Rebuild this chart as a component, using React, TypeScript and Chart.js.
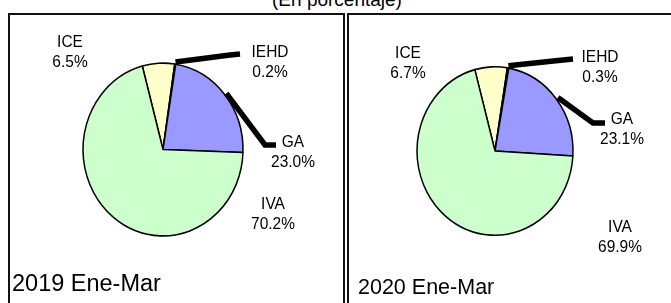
import React, { useEffect, useRef } from "react";
import { Chart, registerables } from "chart.js";

Chart.register(...registerables);

// ---- data ----
const categories = ["ICE", "IEHD", "GA", "IVA"];
const values2019 = [6.5, 0.2, 23.0, 70.2];
const values2020 = [6.7, 0.3, 23.1, 69.9];
const periodLabels = ["2019 Ene-Mar", "2020 Ene-Mar"];
const titleText = "(En porcentaje)";
const sliceColors = ["#FFFFCC", "#FFFFFF", "#9999FF", "#CCFFCC"];

const FONT = "'Liberation Sans', Arial, sans-serif";
const STRETCH = 1.08;

type Pt = [number, number];
type PanelLayout = {
  canvasLeft: number;
  canvasWidth: number;
  cx: number;
  cy: number;
  r: number;
  labelPos: Pt[]; // per category, center of two-line block
  leaders: { [idx: number]: Pt[] }; // extra points after the arc start
};

const panels: PanelLayout[] = [
  {
    canvasLeft: 0,
    canvasWidth: 340,
    cx: 163,
    cy: 149.5,
    r: 80,
    labelPos: [
      [70, 52.5],
      [270, 62.5],
      [293, 152.5],
      [273, 214.5],
    ],
    leaders: {
      1: [
        [230, 55],
        [240, 54],
      ],
      2: [
        [265, 145],
        [276, 145],
      ],
    },
  },
  {
    canvasLeft: 340,
    canvasWidth: 331,
    cx: 155,
    cy: 151,
    r: 78,
    labelPos: [
      [68, 63.5],
      [260, 67.5],
      [282, 129],
      [280, 237.5],
    ],
    leaders: {
      1: [
        [223, 60],
        [233, 59],
      ],
      2: [
        [253, 123],
        [265, 123],
      ],
    },
  },
];

const H = 303;

function makeChart(canvas: HTMLCanvasElement, values: number[], layout: PanelLayout) {
  const stretchPlugin = {
    id: "stretch",
    beforeDatasetsDraw(chart: any) {
      const ctx = chart.ctx;
      const arc = chart.getDatasetMeta(0).data[0];
      ctx.save();
      ctx.translate(arc.x, arc.y);
      ctx.scale(1, STRETCH);
      ctx.translate(-arc.x, -arc.y);
    },
    afterDatasetsDraw(chart: any) {
      chart.ctx.restore();
    },
  };

  const labelPlugin = {
    id: "pieLabels",
    afterDraw(chart: any) {
      const ctx = chart.ctx;
      const meta = chart.getDatasetMeta(0);
      // leader lines
      ctx.save();
      ctx.strokeStyle = "#000";
      ctx.lineWidth = 5.5;
      ctx.lineJoin = "miter";
      ctx.lineCap = "butt";
      Object.keys(layout.leaders).forEach((k) => {
        const i = Number(k);
        const a: any = meta.data[i];
        const mid = (a.startAngle + a.endAngle) / 2;
        const rr = a.outerRadius + 2;
        const sx = a.x + rr * Math.cos(mid);
        const sy = a.y + rr * STRETCH * Math.sin(mid);
        ctx.beginPath();
        ctx.moveTo(sx, sy);
        layout.leaders[i].forEach((p) => ctx.lineTo(p[0], p[1]));
        ctx.stroke();
      });
      ctx.restore();
      // labels
      ctx.save();
      ctx.fillStyle = "#000";
      ctx.textAlign = "center";
      ctx.textBaseline = "middle";
      ctx.font = `15.5px ${FONT}`;
      const ds = chart.data.datasets[0].data as number[];
      chart.data.labels.forEach((lab: string, i: number) => {
        const [x, y] = layout.labelPos[i];
        const lines = [lab, ds[i].toFixed(1) + "%"];
        lines.forEach((t, j) => {
          const ly = y + (j === 0 ? -10 : 10);
          ctx.save();
          ctx.translate(x, ly);
          ctx.scale(1, STRETCH);
          ctx.fillText(t, 0, 0);
          ctx.restore();
        });
      });
      ctx.restore();
    },
  };

  const { cx, cy, r, canvasWidth } = layout;
  return new Chart(canvas, {
    type: "pie",
    data: {
      labels: categories,
      datasets: [
        {
          data: values,
          backgroundColor: sliceColors,
          borderColor: "#000",
          borderWidth: 1.5,
          radius: r,
        } as any,
      ],
    },
    options: {
      animation: false,
      responsive: false,
      maintainAspectRatio: false,
      rotation: -15,
      events: [],
      layout: {
        padding: {
          left: cx - r,
          right: canvasWidth - cx - r,
          top: cy - r,
          bottom: H - cy - r,
        },
      },
      plugins: {
        legend: { display: false },
        tooltip: { enabled: false },
        title: { display: false },
      },
    } as any,
    plugins: [stretchPlugin, labelPlugin],
  });
}

export default function App() {
  const ref1 = useRef<HTMLCanvasElement>(null);
  const ref2 = useRef<HTMLCanvasElement>(null);

  useEffect(() => {
    const c1 = makeChart(ref1.current!, values2019, panels[0]);
    const c2 = makeChart(ref2.current!, values2020, panels[1]);
    return () => {
      c1.destroy();
      c2.destroy();
    };
  }, []);

  return (
    <div
      style={{
        position: "fixed",
        left: 0,
        top: 0,
        width: 671,
        height: 303,
        overflow: "hidden",
        background: "#fff",
        fontFamily: FONT,
      }}
    >
      <div
        style={{
          position: "absolute",
          left: 0,
          top: -10,
          width: 674,
          textAlign: "center",
          fontSize: 19,
          lineHeight: "19px",
          whiteSpace: "nowrap",
        }}
      >
        {titleText}
      </div>
      <div
        style={{
          position: "absolute",
          left: 8,
          top: 13,
          width: 337,
          height: 310,
          border: "2px solid #111",
          boxSizing: "border-box",
        }}
      />
      <div
        style={{
          position: "absolute",
          left: 347,
          top: 13,
          width: 340,
          height: 310,
          border: "2px solid #111",
          boxSizing: "border-box",
        }}
      />
      <canvas
        ref={ref1}
        width={panels[0].canvasWidth}
        height={H}
        style={{ position: "absolute", left: panels[0].canvasLeft, top: 0, width: panels[0].canvasWidth, height: H }}
      />
      <canvas
        ref={ref2}
        width={panels[1].canvasWidth}
        height={H}
        style={{ position: "absolute", left: panels[1].canvasLeft, top: 0, width: panels[1].canvasWidth, height: H }}
      />
      <div
        style={{
          position: "absolute",
          left: 12,
          top: 272,
          fontSize: 23.5,
          lineHeight: "23px",
          whiteSpace: "nowrap",
        }}
      >
        {periodLabels[0]}
      </div>
      <div
        style={{
          position: "absolute",
          left: 358,
          top: 277,
          fontSize: 21.5,
          lineHeight: "21px",
          whiteSpace: "nowrap",
        }}
      >
        {periodLabels[1]}
      </div>
    </div>
  );
}
